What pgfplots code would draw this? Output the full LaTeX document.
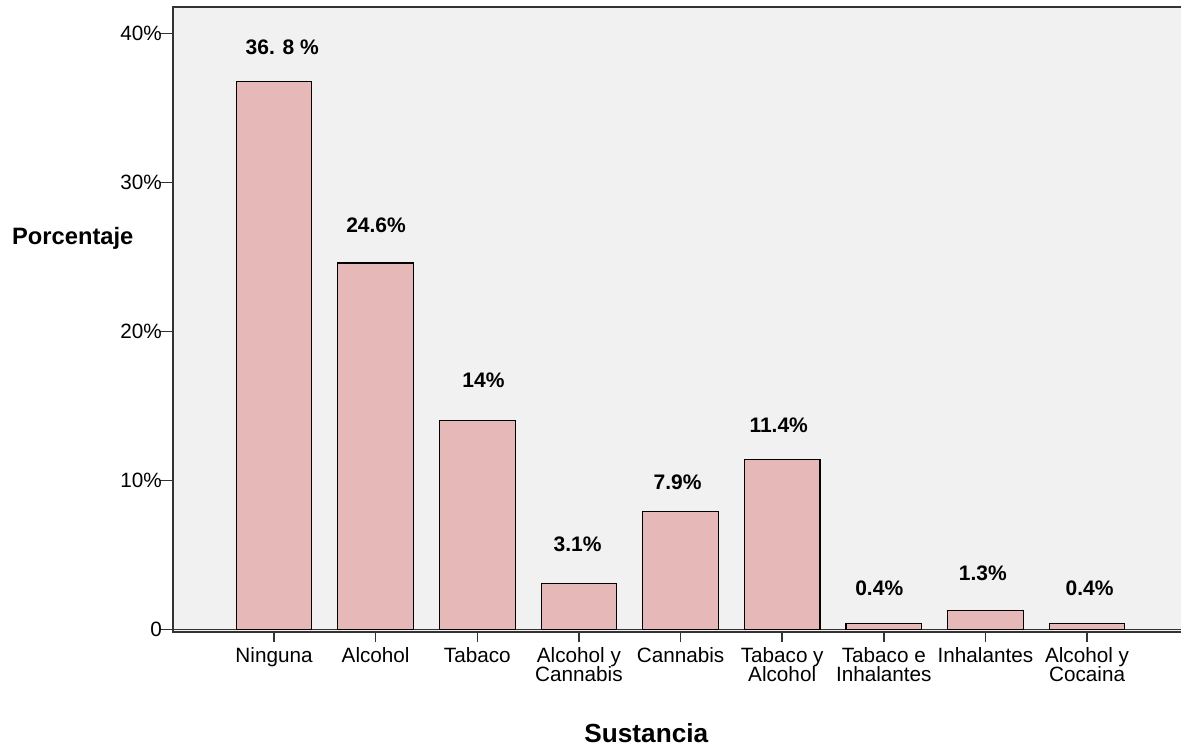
\documentclass[border=0pt]{standalone}
\usepackage{pgfplots}
\pgfplotsset{compat=1.18}
\usepackage{fontspec}
\setmainfont{Liberation Sans}
\definecolor{barfill}{HTML}{E6B8B7}
\definecolor{panel}{HTML}{F1F1F1}
\definecolor{frame}{HTML}{333333}

\begin{document}
\begin{tikzpicture}
\useasboundingbox (0,0) rectangle (590.5pt,374pt);
\begin{axis}[
  at={(86.35pt,57.85pt)}, anchor=south west,
  scale only axis, width=505.15pt, height=312.5pt,
  xmin=-0.997, xmax=8.944, ymin=-0.19, ymax=41.76,
  axis background/.style={fill=panel},
  axis line style={frame, line width=1pt},
  tick align=outside,
  xtick pos=lower, ytick pos=left,
  ytick={0,10,20,30,40}, yticklabels={0,10\%,20\%,30\%,40\%},
  xtick={0,...,8},
  xticklabels={Ninguna, Alcohol, Tabaco, {Alcohol y\\Cannabis}, Cannabis,
    {Tabaco y\\Alcohol}, {Tabaco e\\Inhalantes}, Inhalantes, {Alcohol y\\Cocaina}},
  ytick style={frame, line width=0.7pt, /pgfplots/major tick length=6.5pt},
  xtick style={frame, line width=0.7pt, /pgfplots/major tick length=5pt},
  ticklabel style={font={\fontsize{10.35}{9.35}\selectfont\lineskiplimit=-20pt\lineskip=0pt}, text=black},
  xticklabel style={align=center},
  yticklabel style={inner sep=1pt},
  xlabel={Sustancia},
  xlabel style={at={(rel axis cs:0.4688,-0.1766)}, anchor=base,
    font=\bfseries\fontsize{13.1}{15}\selectfont},
  ylabel={Porcentaje},
  ylabel style={at={(rel axis cs:-0.0989,0.6197)}, anchor=base, rotate=-90,
    font=\bfseries\fontsize{11.85}{14}\selectfont},
]
% zero reference line
\draw[frame, line width=0.8pt] (axis cs:-0.997,0) -- (axis cs:8.944,0);

\addplot[ybar, bar width=0.744, bar shift=0pt, fill=barfill, draw=black, line width=0.55pt]
  coordinates {(0,36.8) (1,24.6) (2,14) (3,3.1) (4,7.9) (5,11.4) (6,0.4) (7,1.3) (8,0.4)};

\begin{scope}[every node/.style={anchor=base, font=\bfseries\fontsize{10.5}{12}\selectfont}]
\node at (axis cs:0.081,38.62) {36. 8 \%};
\node at (axis cs:1.004,26.63) {24.6\%};
\node at (axis cs:2.061,16.26) {14\%};
\node at (axis cs:2.987,5.22) {3.1\%};
\node at (axis cs:3.971,9.41) {7.9\%};
\node at (axis cs:4.966,13.21) {11.4\%};
\node at (axis cs:5.955,2.25) {0.4\%};
\node at (axis cs:6.975,3.32) {1.3\%};
\node at (axis cs:8.024,2.25) {0.4\%};
\end{scope}
\end{axis}
\end{tikzpicture}
\end{document}
